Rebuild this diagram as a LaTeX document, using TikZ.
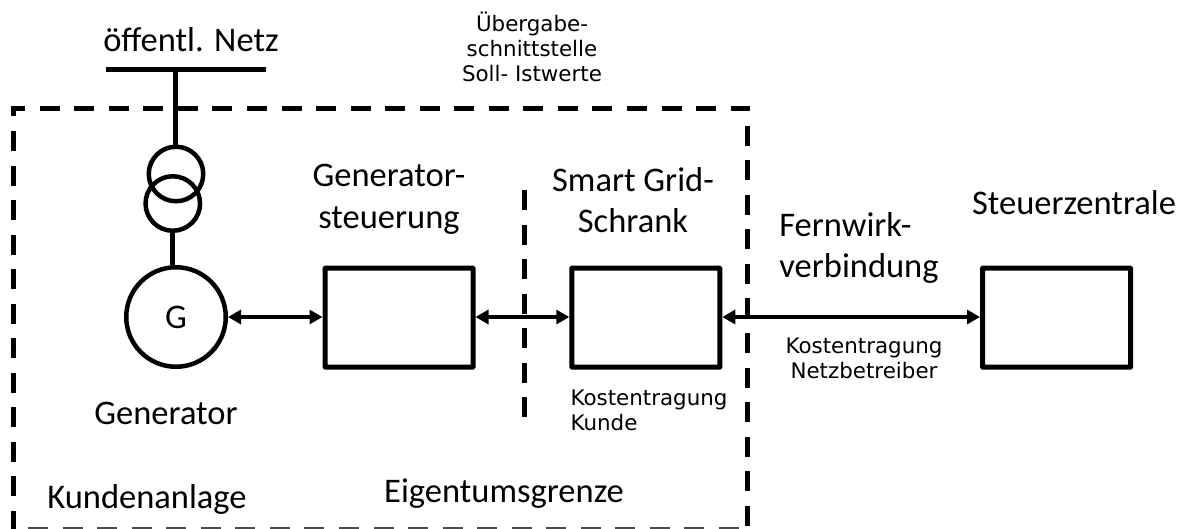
\documentclass[tikz,border=0pt]{standalone}
\usepackage{fontspec}
\setmainfont{Carlito}
\newfontfamily\verd{DejaVu Sans}
\usetikzlibrary{arrows.meta}
\tikzset{
  x=1pt,y=-1pt,
  box/.style={draw,line width=5pt,minimum width=148pt,minimum height=99pt,inner sep=0pt,rounded corners=0.5pt},
  wire/.style={line width=5pt},
  link/.style={line width=3.4pt,{Triangle[length=13pt,width=14pt]}-{Triangle[length=13pt,width=14pt]}},
  bound/.style={line width=5pt,dash pattern=on 20pt off 14.55pt},
  big/.style={font=\fontsize{34.5}{41.7}\selectfont,align=center,inner sep=0pt},
  small/.style={font=\verd\fontsize{21.4}{25.2}\selectfont,inner sep=0pt}
}
\begin{document}
\begin{tikzpicture}
\useasboundingbox (0,0) rectangle (1184,528);
\fill[white] (0,0) rectangle (1184,528);
% frame
\coordinate (fbl) at (13.5,531);
\coordinate (ftl) at (13.5,108);
\coordinate (ftr) at (747.5,108);
\coordinate (fbr) at (747.5,528.5);
\draw[bound] (fbl) -- (ftl) -- (ftr) -- (fbr);
\coordinate (fb1) at (28,529.4);
\coordinate (fb2) at (740,529.4);
\draw[line width=4pt,dash pattern=on 20pt off 14.55pt,black!70] (fb1) -- (fb2);
% inner boundary
\coordinate (d1) at (524,190);
\coordinate (d2) at (524,417);
\draw[bound] (d1) -- (d2);
% nodes
\coordinate (bl) at (106,69.5);
\coordinate (br) at (266,69.5);
\coordinate (bm) at (175.3,69.5);
\draw[wire] (bl) -- (br);
\node[circle,draw,line width=4.5pt,minimum size=54.5pt,inner sep=0pt] (t1) at (176,174) {};
\node[circle,draw,line width=4.5pt,minimum size=54.5pt,inner sep=0pt] (t2) at (172.8,203.5) {};
\node[circle,draw,line width=4.5pt,minimum size=99.5pt,inner sep=0pt,font=\fontsize{34.5}{36}\selectfont] (g) at (176,317) {G};
\draw[wire] (bm) -- (bm |- t1.north);
\draw[wire] (t2.south) -- (t2.south |- g.north);
\node[box] (sg) at (399,317.7) {};
\node[box] (sgs) at (645.8,317.7) {};
\node[box] (sz) at (1056.5,317.7) {};
\draw[link] (g) -- (sg.west |- g);
\draw[link] (sg.east |- g) -- (sgs.west |- g);
\draw[link] (sgs.east |- g) -- (sz.west |- g);
% labels
\node[big] (l1) at (191,40) {öffentl. Netz};
\node[big] (l2) at (389,199) {Generator-\\steuerung};
\node[big] (l3) at (633,200) {Smart Grid-\\Schrank};
\node[big,align=left] (l4) at (859,248) {Fernwirk-\\verbindung};
\node[big] (l5) at (1074,203) {Steuerzentrale};
\node[big] (l6) at (166,413) {Generator};
\node[big] (l7) at (147,499) {Kundenanlage};
\node[big] (l8) at (504,494) {Eigentumsgrenze};
\node[small,align=center] (l9) at (532,47) {Übergabe-\\schnittstelle\\Soll- Istwerte};
\node[small,align=left] (l10) at (649,410) {Kostentragung\\Kunde};
\node[small,align=center] (l11) at (864,358) {Kostentragung\\Netzbetreiber};
\end{tikzpicture}
\end{document}
